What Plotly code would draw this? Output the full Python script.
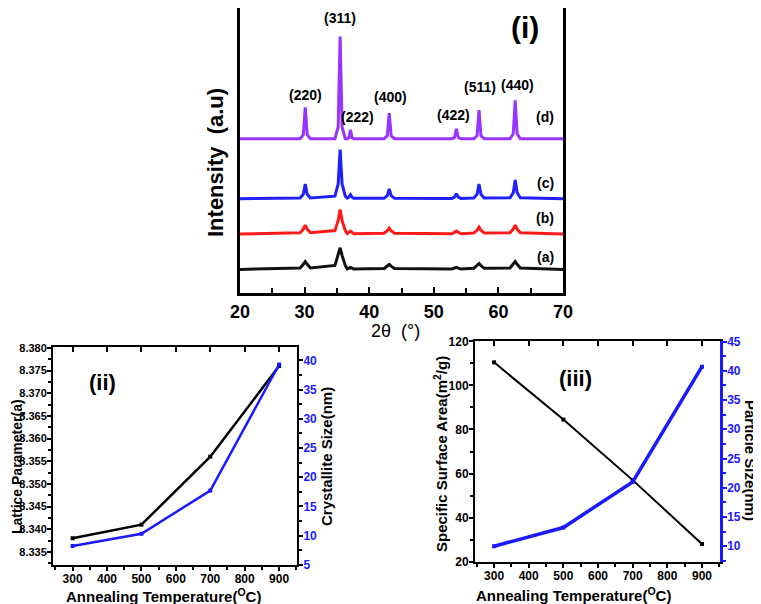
import plotly.graph_objects as go

# XRD patterns (i) - 2theta grid and intensities above each baseline
two_theta = [20.0,
             29.3, 29.8, 30.1, 30.4, 30.9,
             34.7, 35.2, 35.5, 35.8, 36.3,
             36.6, 36.85, 37.1, 37.35, 37.6,
             42.3, 42.8, 43.1, 43.4, 43.9,
             52.8, 53.2, 53.5, 53.8, 54.2,
             56.2, 56.7, 57.0, 57.3, 57.8,
             61.8, 62.3, 62.6, 62.9, 63.4,
             70.0]
int_a = [0, 1.4, 5.2, 8, 5.2, 1.4, 4, 14.3, 22, 14.3, 4, 0.4, 1.3, 2, 1.3, 0.4,
         0.9, 3.3, 5, 3.3, 0.9, 0.4, 1.3, 2, 1.3, 0.4, 1.1, 3.9, 6, 3.9, 1.1,
         1.4, 5.2, 8, 5.2, 1.4, 0]
int_b = [0, 1.3, 5, 9, 5, 1.3, 3.5, 13.8, 25, 13.8, 3.5, 0.4, 1.7, 3, 1.7, 0.4,
         0.8, 3.3, 6, 3.3, 0.8, 0.4, 1.7, 3, 1.7, 0.4, 1, 3.9, 7, 3.9, 1,
         1.3, 5, 9, 5, 1.3, 0]
int_c = [0, 0.7, 4.5, 15, 4.5, 0.7, 2.5, 15, 50, 15, 2.5, 0.5, 1.5, 4, 1.5, 0.5,
         0.5, 3, 10, 3, 0.5, 0.2, 1.5, 5, 1.5, 0.2, 0.7, 4.5, 15, 4.5, 0.7,
         0.9, 6, 19, 6, 0.9, 0]
int_d = [0, 0, 4, 32, 4, 0, 0, 12, 104, 12, 0, 0, 1, 9, 1, 0,
         0, 3, 26, 3, 0, 0, 1, 10, 1, 0, 0, 3, 29, 3, 0,
         0, 5, 39, 5, 0, 0]
stack_offset = [24, 60, 96, 157]
curve_names = ["(a)", "(b)", "(c)", "(d)"]
hkl = ["(220)", "(311)", "(222)", "(400)", "(422)", "(511)", "(440)"]

# (ii) and (iii)
temperature = [300, 500, 700, 900]
lattice_a = [8.338, 8.341, 8.356, 8.376]
crystallite_nm = [8.2, 10.3, 17.7, 39.3]
surface_area = [110.5, 84.5, 57, 28]
particle_nm = [10, 13.2, 21, 40.7]

# page body has an 8px margin, so the figure is drawn 8px in from the window corner
PAD = 8
W, H = 761 - PAD, 604 - PAD
BLUE = "#1a1aff"
SANS = "Liberation Sans, Arial"


def px(x):
    return (x - PAD) / W


def py(y):
    return 1 - (y - PAD) / H


fig = go.Figure()

colors = ["#111111", "#ff1a1a", "#1f1fff", "#9933ff"]
for name, ints, off, col in zip(curve_names, [int_a, int_b, int_c, int_d], stack_offset, colors):
    fig.add_trace(go.Scatter(x=two_theta, y=[v + off for v in ints], mode="lines", name=name,
                             line=dict(color=col, width=3), xaxis="x", yaxis="y"))

fig.add_trace(go.Scatter(x=temperature, y=lattice_a, mode="lines+markers",
                         line=dict(color="black", width=2.5),
                         marker=dict(symbol="square", size=4, color="black"),
                         xaxis="x2", yaxis="y2"))
fig.add_trace(go.Scatter(x=temperature, y=crystallite_nm, mode="lines+markers",
                         line=dict(color=BLUE, width=2.5),
                         marker=dict(symbol="square", size=4, color=BLUE),
                         xaxis="x4", yaxis="y3"))
fig.add_trace(go.Scatter(x=temperature, y=surface_area, mode="lines+markers",
                         line=dict(color="black", width=2),
                         marker=dict(symbol="square", size=4, color="black"),
                         xaxis="x3", yaxis="y4"))
fig.add_trace(go.Scatter(x=temperature, y=particle_nm, mode="lines+markers",
                         line=dict(color=BLUE, width=3.5),
                         marker=dict(symbol="square", size=4, color=BLUE),
                         xaxis="x5", yaxis="y5"))

tick_big = dict(family=SANS, size=18, color="black", weight="bold")
tick_small = dict(family=SANS, size=12, color="black", weight="bold")
tick_lat = dict(family=SANS, size=11, color="black", weight="bold")
tick_blue = dict(family=SANS, size=12, color=BLUE, weight="bold")
common = dict(showgrid=False, zeroline=False, automargin=False)

fig.update_layout(
    width=W, height=H, margin=dict(l=0, r=0, t=0, b=0, autoexpand=False),
    paper_bgcolor="white", plot_bgcolor="white", showlegend=False,
    xaxis=dict(domain=[px(240), px(563)], anchor="y", range=[20, 70], dtick=10,
               ticks="inside", ticklen=6, tickwidth=2, tickcolor="black",
               minor=dict(dtick=5, ticks="inside", ticklen=5, tickwidth=2, tickcolor="black"),
               showline=True, linewidth=3, linecolor="black", mirror=True,
               tickfont=tick_big, **common),
    yaxis=dict(domain=[py(293), 1], anchor="x", range=[0, 290],
               showticklabels=False, ticks="", showline=True, linewidth=3,
               linecolor="black", mirror=True, **common),
    # (ii)
    xaxis2=dict(domain=[px(53), px(297)], anchor="y2", range=[243, 952], dtick=100,
                ticks="outside", ticklen=4, tickwidth=2, tickcolor="black",
                minor=dict(dtick=50, ticks="outside", ticklen=3, tickwidth=1.5, tickcolor="black"),
                showline=True, linewidth=2, linecolor="black", mirror=True,
                ticklabelstandoff=-2, tickfont=tick_small, **common),
    xaxis4=dict(overlaying="x2", anchor="y2", side="top", range=[243, 952], dtick=100,
                ticks="inside", ticklen=5, tickwidth=2, tickcolor="black",
                showticklabels=False, showline=False, **common),
    yaxis2=dict(domain=[py(565), py(347)], anchor="x2", range=[8.3321, 8.3802], dtick=0.005,
                tickformat=".3f", ticks="outside", ticklen=4, tickwidth=2, tickcolor="black",
                minor=dict(dtick=0.0025, ticks="outside", ticklen=3, tickwidth=1.5, tickcolor="black"),
                showline=True, linewidth=2, linecolor="black", mirror=True,
                ticklabelstandoff=-2, tickfont=tick_lat, **common),
    yaxis3=dict(overlaying="y2", anchor="x2", side="right", range=[4.95, 42.3], dtick=5,
                ticks="outside", ticklen=4, tickwidth=2, tickcolor="black",
                minor=dict(dtick=2.5, ticks="outside", ticklen=3, tickwidth=1.5, tickcolor="black"),
                showline=True, linewidth=2, linecolor="black",
                ticklabelstandoff=-2, tickfont=tick_blue, **common),
    # (iii)
    xaxis3=dict(domain=[px(475), px(720)], anchor="y4", range=[245, 952], dtick=100,
                ticks="outside", ticklen=4, tickwidth=2, tickcolor="black",
                minor=dict(dtick=50, ticks="outside", ticklen=3, tickwidth=1.5, tickcolor="black"),
                showline=True, linewidth=2, linecolor="black", mirror=True,
                ticklabelstandoff=-2, tickfont=tick_small, **common),
    xaxis5=dict(overlaying="x3", anchor="y4", side="top", range=[245, 952], dtick=100,
                ticks="inside", ticklen=5, tickwidth=2, tickcolor="black",
                showticklabels=False, showline=False, **common),
    yaxis4=dict(domain=[py(562), py(341)], anchor="x3", range=[19.8, 120.2], dtick=20,
                ticks="outside", ticklen=4, tickwidth=2, tickcolor="black",
                minor=dict(dtick=10, ticks="outside", ticklen=3, tickwidth=1.5, tickcolor="black"),
                showline=True, linewidth=2, linecolor="black",
                ticklabelstandoff=-2, tickfont=tick_small, **common),
    yaxis5=dict(overlaying="y4", anchor="x3", side="right", range=[7.3, 45.1], dtick=5,
                ticks="outside", ticklen=4, tickwidth=2, tickcolor=BLUE,
                minor=dict(dtick=2.5, ticks="outside", ticklen=3, tickwidth=1.5, tickcolor=BLUE),
                showline=True, linewidth=2.5, linecolor=BLUE,
                ticklabelstandoff=-2, tickfont=tick_blue, **common),
)


def note(text, x, y, size, bold=True, angle=0, color="black"):
    fig.add_annotation(text=text, x=px(x), y=py(y), xref="paper", yref="paper",
                       showarrow=False, textangle=angle, xanchor="center", yanchor="middle",
                       font=dict(family=SANS, size=size, color=color,
                                 weight="bold" if bold else "normal"))


# panel (i) texts
hkl_pos = [(305, 95), (340, 18), (357, 117), (390, 97), (453, 115), (480, 87), (518, 85)]
for lab, (x, y) in zip(hkl, hkl_pos):
    note(lab, x, y, 14)
curve_lab_y = [257, 218, 183, 117]
for lab, y in zip(curve_names, curve_lab_y):
    note(lab, 545, y, 14)
note("(i)", 525, 27, 30)
note("Intensity  (a.u)", 215, 162, 22, angle=-90)
note("2θ  (°)", 395, 331, 18, bold=False)

# panel (ii) texts
note("(ii)", 102, 382, 22)
note("Annealing Temperature(<sup>O</sup>C)", 163, 595, 15)
note("Lattice Parameter(a)", 17, 467, 14, angle=-90)
note("Crystallite Size(nm)", 326, 457, 15, angle=-90)

# panel (iii) texts
note("(iii)", 575, 378, 22)
note("Annealing Temperature(<sup>O</sup>C)", 573, 594, 15)
note("Specific Surface Area(m<sup>2</sup>/g)", 440, 454, 15, angle=-90)
note("Particle Size(nm)", 751, 460, 15, angle=90)

fig.write_html("out.html")
